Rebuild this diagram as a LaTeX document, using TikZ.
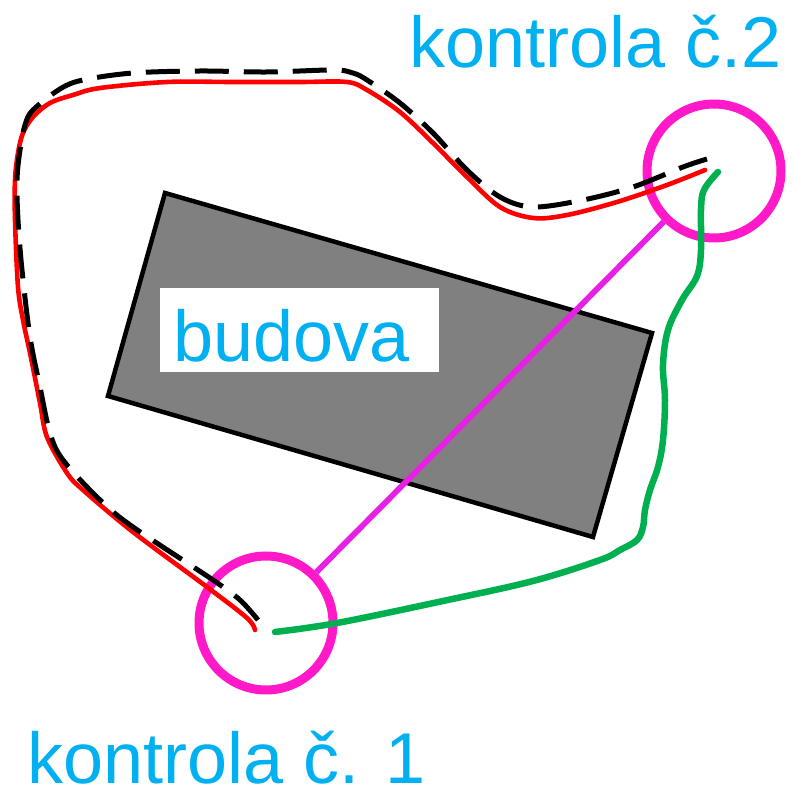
\documentclass[tikz,border=0pt]{standalone}
\usepackage{fontspec}
\setmainfont{Liberation Sans}
\definecolor{txtblue}{RGB}{0,176,240}
\definecolor{ringmag}{RGB}{255,25,200}
\definecolor{linemag}{RGB}{232,32,228}
\definecolor{grn}{RGB}{0,176,80}
\definecolor{bldgray}{RGB}{128,128,128}
\tikzset{
  lbl/.style={inner sep=0pt, anchor=base west, text=txtblue, font=\fontsize{72}{86}\selectfont},
  ring/.style={circle, draw=ringmag, line width=9pt, minimum size=134pt, inner sep=0pt},
  redpath/.style={draw=red, line width=4.6pt, line cap=round},
  dashpath/.style={draw=black, line width=5pt, dash pattern=on 34pt off 15pt},
  grnpath/.style={draw=grn, line width=6.5pt, line cap=round, line join=round},
}
\begin{document}
\begin{tikzpicture}[x=1pt,y=-1pt]
\useasboundingbox (0,0) rectangle (793,786);
% building
\draw[fill=bldgray, line width=4.5pt, line join=miter] (165,193) -- (652,333) -- (593,537) -- (108,396) -- cycle;
\node[fill=white, minimum width=279pt, minimum height=84pt, anchor=north west, inner sep=0pt] (box) at (160,288) {};
\node[lbl] (budova) at (173,362) {budova};
% control points
\node[ring] (c1) at (266,623) {};
\node[ring] (c2) at (714,171) {};
\draw[linemag, line width=5.8pt] (c1) -- (c2);
% green route
\draw[grnpath] plot[smooth, tension=0.6] coordinates {(275,632) (337,623) (443,601) (533,581) (600,560) (620,550) (637,540) (643,527) (645,510) (650,490) (658,467) (663,440) (665,400) (663,365) (668,330) (682,300) (697,276) (701,250) (701,210) (704,190) (718,172)};
% red route
\draw[redpath] plot[smooth, tension=0.55] coordinates {(255,630) (247,618) (207,587) (133,532) (83,490) (67,473) (47,437) (40,403) (30,353) (23,320) (18,287) (15,220) (15,180) (18,153) (23,133) (33,117) (50,103) (73,95) (100,88) (167,82) (233,82) (300,82) (347,82) (367,90) (400,112) (433,143) (467,177) (500,207) (533,218) (567,215) (617,202) (667,185) (705,170)};
% dashed route
\draw[dashpath] plot[smooth, tension=0.55] coordinates {(258,620) (240,600) (213,580) (133,527) (100,500) (63,460) (50,433) (40,387) (30,337) (22,270) (18,220) (17,180) (20,150) (25,125) (33,110) (60,89) (83,80) (133,73) (200,71) (267,72) (333,70) (353,73) (367,80) (400,103) (433,133) (467,170) (500,197) (533,207) (583,200) (633,187) (683,167) (707,159)};
% labels
\node[lbl] (k2) at (409,68) {kontrola č.2};
\node[lbl] (k1) at (27,783) {kontrola č. 1};
\end{tikzpicture}
\end{document}
